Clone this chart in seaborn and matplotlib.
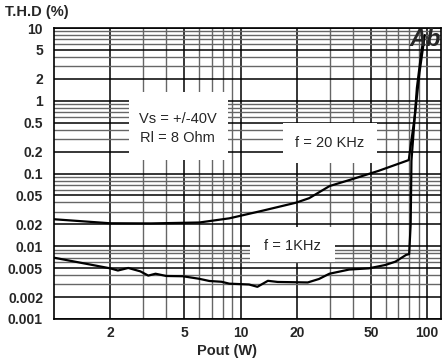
import matplotlib
matplotlib.use("Agg")
import matplotlib.pyplot as plt
import seaborn as sns
import numpy as np
import pandas as pd
from matplotlib.patches import Rectangle
from matplotlib.ticker import LogLocator, FixedLocator, FixedFormatter, NullFormatter

# ---- data ----
pout_20k = [1.0, 2.0, 3.3, 6.0, 8.7, 13.1, 19.8, 23.3, 30.0, 39.4, 55.0, 79.6, 86.0, 91.0, 97.0]
thd_20k = [0.0235, 0.0207, 0.0206, 0.0212, 0.0242, 0.0308, 0.0397, 0.0458, 0.0673, 0.0832, 0.109, 0.153, 0.65, 2.5, 8.0]

pout_1k = [1.0, 2.0, 2.2, 2.5, 2.9, 3.2, 3.5, 4.0, 4.9, 6.0, 6.8, 7.9, 8.7, 11.1, 12.3, 14.0, 15.8,
           22.9, 26.3, 29.9, 38.1, 48.6, 59.7, 67.5, 77.0, 80.0, 81.5, 82.3, 88.0, 93.3, 96.0]
thd_1k = [0.00696, 0.00497, 0.00464, 0.00503, 0.00452, 0.00395, 0.00419, 0.0039, 0.00387, 0.00357,
          0.00333, 0.00325, 0.00306, 0.00298, 0.00277, 0.00335, 0.00323, 0.00318, 0.00355, 0.00419,
          0.00478, 0.00497, 0.00553, 0.00614, 0.0076, 0.0078, 0.02, 0.15, 1.5, 5.0, 7.5]

x_ticks = [2, 5, 10, 20, 50, 100]
x_ticklabels = ["2", "5", "10", "20", "50", "100"]
y_ticks = [10, 5, 2, 1, 0.5, 0.2, 0.1, 0.05, 0.02, 0.01, 0.005, 0.002, 0.001]
y_ticklabels = ["10", "5", "2", "1", "0.5", "0.2", "0.1", "0.05", "0.02", "0.01", "0.005", "0.002", "0.001"]

df = pd.concat([
    pd.DataFrame({"Pout": pout_20k, "THD": thd_20k, "f": "20 KHz"}),
    pd.DataFrame({"Pout": pout_1k, "THD": thd_1k, "f": "1 KHz"}),
])

sns.set_theme(style="white")
plt.rcParams["font.family"] = ["Liberation Sans", "DejaVu Sans"]

fig = plt.figure(figsize=(4.47, 3.6), dpi=100)
ax = fig.add_axes([54/447, 1-319/360, 387/447, 291/360])

ax.set_xscale("log")
ax.set_yscale("log")
ax.set_xlim(1, 118.5)
ax.set_ylim(0.001, 10)

# grid
ax.set_axisbelow(True)
ax.xaxis.set_minor_locator(LogLocator(base=10, subs=np.arange(2, 10)))
ax.yaxis.set_minor_locator(LogLocator(base=10, subs=np.arange(2, 10)))
ax.xaxis.set_minor_formatter(NullFormatter())
ax.yaxis.set_minor_formatter(NullFormatter())
ax.grid(True, which="major", color="black", linewidth=1.1)
ax.grid(True, which="minor", color="#666666", linewidth=1.0)

sns.lineplot(data=df, x="Pout", y="THD", units="f", estimator=None, sort=False,
             color="black", linewidth=1.6, ax=ax, zorder=4, legend=False)

ax.xaxis.set_major_locator(FixedLocator(x_ticks))
ax.xaxis.set_major_formatter(FixedFormatter(x_ticklabels))
ax.yaxis.set_major_locator(FixedLocator(y_ticks))
ax.yaxis.set_major_formatter(FixedFormatter(y_ticklabels))
ax.tick_params(axis="both", which="both", length=0, labelsize=10)
ax.tick_params(axis="y", pad=8)
ax.tick_params(axis="x", pad=5)
for lab in ax.get_xticklabels() + ax.get_yticklabels():
    lab.set_fontweight("bold")

for s in ax.spines.values():
    s.set_color("black")
    s.set_linewidth(1.2)

ax.set_xlabel("Pout (W)", fontsize=10.5, fontweight="bold")
ax.xaxis.set_label_coords((227-54)/387, -0.085)
ax.set_ylabel("")
fig.text(5/447, 1-12/360, "T.H.D (%)", fontsize=10.5, fontweight="bold", ha="left", va="center")

# white label boxes
def wbox(x0, x1, y0, y1):
    ax.add_patch(Rectangle((x0, y0), x1-x0, y1-y0, transform=ax.transAxes,
                           facecolor="white", edgecolor="none", zorder=2))

wbox(0.194, 0.450, 0.546, 0.780)
wbox(0.592, 0.835, 0.536, 0.674)
wbox(0.506, 0.726, 0.196, 0.316)

ax.text(0.320, 0.687, "Vs = +/-40V", transform=ax.transAxes, ha="center", va="center",
        fontsize=10.5, zorder=3)
ax.text(0.320, 0.622, "Rl = 8 Ohm", transform=ax.transAxes, ha="center", va="center",
        fontsize=10.5, zorder=3)
ax.text(0.713, 0.605, "f = 20 KHz", transform=ax.transAxes, ha="center", va="center",
        fontsize=10.5, zorder=3)
ax.text(0.616, 0.252, "f = 1KHz", transform=ax.transAxes, ha="center", va="center",
        fontsize=10.5, zorder=3)

ax.text((425-54)/387, 1-(40-28)/291, "Ab", transform=ax.transAxes, ha="center", va="center",
        fontsize=17, fontweight="bold", fontstyle="italic", zorder=5)

fig.savefig("out.png", dpi=100)
